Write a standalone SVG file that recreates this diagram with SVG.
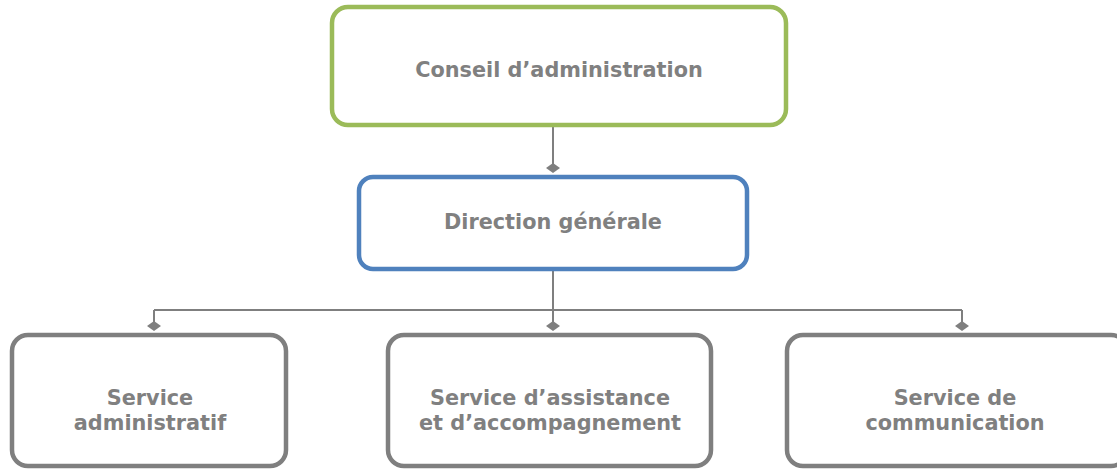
<svg xmlns="http://www.w3.org/2000/svg" width="1117" height="470" viewBox="0 0 1117 470">
<style>
.box{fill:#fff;stroke-width:4.5}
.t{font-family:"DejaVu Sans",Verdana,sans-serif;font-weight:bold;font-size:20.8px;fill:#808080;text-anchor:middle}
.c{fill:none;stroke:#7f7f7f;stroke-width:2}
</style>
<defs>
<marker id="dia" markerWidth="10" markerHeight="14" refX="5" refY="7" orient="auto" markerUnits="userSpaceOnUse" viewBox="0 0 10 14">
<path d="M5 0 L10 7 L5 14 L0 7 Z" fill="#7f7f7f"/>
</marker>
</defs>
<g id="connectors">
<path class="c" d="M553 126 V168" marker-end="url(#dia)"/>
<path class="c" d="M553 270 V310"/>
<path class="c" d="M154 310 H962"/>
<path class="c" d="M154 310 V326" marker-end="url(#dia)"/>
<path class="c" d="M553 310 V326" marker-end="url(#dia)"/>
<path class="c" d="M962 310 V326" marker-end="url(#dia)"/>
</g>
<g id="conseil">
<rect class="box" x="332" y="7" width="454" height="118" rx="16" stroke="#9bbb59"/>
<text class="t" x="559" y="77">Conseil d’administration</text>
</g>
<g id="direction">
<rect class="box" x="359" y="177" width="388" height="92" rx="14" stroke="#4f81bd"/>
<text class="t" x="553" y="229">Direction générale</text>
</g>
<g id="admin">
<rect class="box" x="12" y="335" width="274" height="131" rx="16" stroke="#7f7f7f"/>
<text class="t" x="150" y="405">Service</text>
<text class="t" x="150" y="430">administratif</text>
</g>
<g id="assistance">
<rect class="box" x="388" y="335" width="323" height="131" rx="16" stroke="#7f7f7f"/>
<text class="t" x="550" y="405">Service d’assistance</text>
<text class="t" x="550" y="430">et d’accompagnement</text>
</g>
<g id="communication">
<rect class="box" x="787" y="335" width="340" height="131" rx="16" stroke="#7f7f7f"/>
<text class="t" x="955" y="405">Service de</text>
<text class="t" x="955" y="430">communication</text>
</g>
</svg>
